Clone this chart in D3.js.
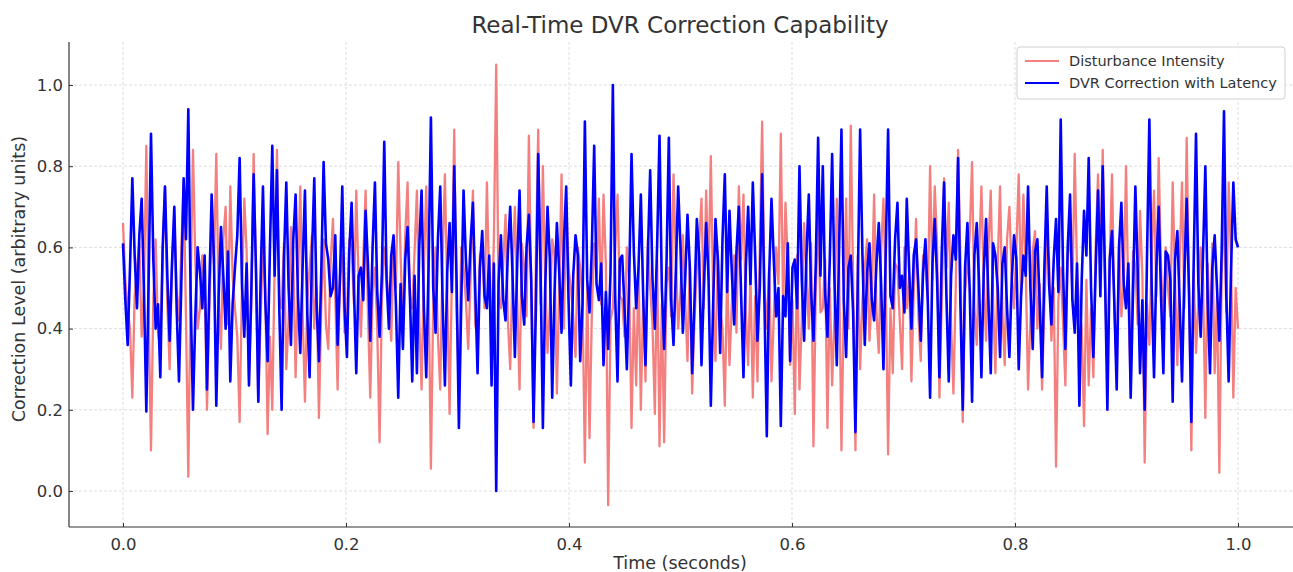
<!DOCTYPE html>
<html>
<head>
<meta charset="utf-8">
<script src="https://cdn.jsdelivr.net/npm/d3@7"></script>
<style>
  body { margin: 0; background: #fff; }
  svg { font-family: "DejaVu Sans", sans-serif; }
</style>
</head>
<body>
<svg id="chart"></svg>
<script>
const width = 1293
const height = 572

// values, evenly spaced in time 0..1
const disturbance = [
  0.66,0.52,0.45,0.40,0.23,0.48,0.55,0.61,0.38,0.50,0.85,0.44,0.10,0.47,0.62,0.39,0.35,0.58,0.75,0.46,
  0.30,0.55,0.68,0.49,0.42,0.60,0.76,0.43,0.035,0.51,0.84,0.57,0.40,0.45,0.58,0.52,0.20,0.44,0.65,0.56,
  0.83,0.47,0.35,0.62,0.70,0.41,0.75,0.53,0.45,0.38,0.17,0.50,0.72,0.59,0.28,0.46,0.83,0.54,0.22,0.43,
  0.60,0.49,0.14,0.38,0.20,0.55,0.84,0.48,0.45,0.61,0.30,0.42,0.65,0.57,0.28,0.51,0.75,0.44,0.22,0.47,
  0.55,0.63,0.40,0.50,0.18,0.45,0.62,0.41,0.35,0.56,0.67,0.48,0.25,0.53,0.58,0.39,0.42,0.62,0.60,0.46,
  0.74,0.52,0.38,0.57,0.74,0.44,0.23,0.49,0.55,0.40,0.12,0.47,0.60,0.54,0.45,0.37,0.62,0.50,0.81,0.58,
  0.40,0.63,0.76,0.48,0.45,0.59,0.74,0.42,0.25,0.55,0.75,0.51,0.055,0.46,0.60,0.38,0.25,0.57,0.78,0.49,
  0.19,0.53,0.89,0.44,0.25,0.60,0.55,0.47,0.35,0.52,0.74,0.41,0.38,0.58,0.60,0.45,0.76,0.50,0.40,0.62,
  1.05,0.48,0.45,0.56,0.68,0.42,0.30,0.54,0.70,0.47,0.25,0.61,0.55,0.43,0.875,0.50,0.155,0.57,0.89,0.46,
  0.80,0.52,0.34,0.45,0.62,0.58,0.24,0.49,0.78,0.40,0.71,0.55,0.50,0.43,0.33,0.60,0.55,0.47,0.07,0.51,
  0.13,0.44,0.61,0.53,0.72,0.46,0.73,0.56,-0.035,0.42,0.45,0.59,0.73,0.48,0.47,0.38,0.60,0.52,0.155,0.45,
  0.26,0.55,0.20,0.48,0.27,0.62,0.50,0.41,0.19,0.57,0.11,0.46,0.12,0.51,0.55,0.43,0.78,0.58,0.40,0.49,
  0.63,0.47,0.32,0.56,0.24,0.42,0.55,0.61,0.72,0.45,0.74,0.52,0.825,0.48,0.32,0.59,0.45,0.40,0.21,0.54,
  0.31,0.46,0.58,0.39,0.75,0.57,0.73,0.44,0.31,0.53,0.23,0.48,0.27,0.60,0.91,0.50,0.40,0.55,0.27,0.43,
  0.60,0.51,0.88,0.45,0.71,0.56,0.31,0.47,0.19,0.58,0.25,0.42,0.66,0.54,0.40,0.61,0.11,0.49,0.69,0.44,
  0.45,0.57,0.155,0.50,0.26,0.43,0.72,0.55,0.10,0.46,0.72,0.40,0.90,0.52,0.10,0.58,0.30,0.47,0.55,0.62,
  0.37,0.48,0.73,0.44,0.34,0.59,0.72,0.51,0.09,0.45,0.29,0.56,0.55,0.42,0.30,0.60,0.45,0.53,0.27,0.49,
  0.67,0.43,0.32,0.58,0.55,0.47,0.80,0.52,0.75,0.61,0.23,0.46,0.77,0.55,0.71,0.41,0.24,0.50,0.84,0.57,
  0.17,0.49,0.55,0.63,0.81,0.45,0.36,0.58,0.75,0.52,0.37,0.60,0.74,0.47,0.29,0.56,0.75,0.44,0.31,0.62,
  0.70,0.53,0.45,0.60,0.78,0.48,0.73,0.55,0.25,0.42,0.59,0.64,0.40,0.51,0.25,0.46,0.62,0.57,0.37,0.50,
  0.06,0.47,0.55,0.41,0.26,0.58,0.63,0.49,0.83,0.54,0.45,0.40,0.16,0.52,0.26,0.45,0.28,0.61,0.78,0.56,
  0.84,0.50,0.29,0.57,0.78,0.44,0.29,0.62,0.43,0.51,0.80,0.47,0.25,0.59,0.55,0.41,0.69,0.53,0.07,0.46,
  0.36,0.58,0.74,0.48,0.82,0.55,0.42,0.60,0.50,0.43,0.76,0.52,0.31,0.57,0.76,0.45,0.87,0.49,0.10,0.54,
  0.34,0.47,0.60,0.52,0.18,0.56,0.38,0.61,0.29,0.48,0.045,0.53,0.71,0.44,0.76,0.58,0.23,0.50,0.40
]

const correction = [
  0.61,0.47,0.36,0.55,0.77,0.58,0.45,0.63,0.72,0.49,0.196,0.52,0.88,0.57,0.40,0.46,0.28,0.60,0.75,0.53,
  0.37,0.56,0.70,0.45,0.27,0.51,0.77,0.62,0.94,0.48,0.20,0.43,0.60,0.54,0.45,0.58,0.25,0.50,0.73,0.57,
  0.21,0.48,0.65,0.53,0.40,0.59,0.27,0.46,0.55,0.63,0.82,0.51,0.38,0.56,0.26,0.49,0.78,0.55,0.22,0.52,
  0.75,0.47,0.32,0.60,0.85,0.53,0.79,0.45,0.20,0.57,0.76,0.50,0.36,0.62,0.73,0.48,0.34,0.55,0.74,0.44,
  0.28,0.58,0.77,0.46,0.32,0.54,0.81,0.61,0.57,0.48,0.50,0.63,0.36,0.52,0.75,0.45,0.33,0.59,0.71,0.50,
  0.29,0.53,0.55,0.47,0.69,0.56,0.37,0.60,0.76,0.49,0.38,0.54,0.86,0.52,0.40,0.58,0.63,0.46,0.23,0.51,
  0.35,0.57,0.65,0.48,0.27,0.53,0.29,0.60,0.74,0.45,0.28,0.55,0.92,0.50,0.39,0.62,0.75,0.47,0.26,0.54,
  0.66,0.49,0.80,0.52,0.155,0.46,0.74,0.57,0.47,0.61,0.71,0.50,0.29,0.55,0.64,0.48,0.45,0.58,0.26,0.56,
  0.0,0.51,0.63,0.47,0.42,0.59,0.70,0.53,0.33,0.56,0.74,0.48,0.41,0.60,0.68,0.52,0.17,0.45,0.83,0.55,
  0.155,0.50,0.70,0.57,0.23,0.49,0.66,0.54,0.39,0.61,0.75,0.47,0.26,0.53,0.63,0.58,0.32,0.46,0.91,0.52,
  0.44,0.60,0.85,0.51,0.47,0.56,0.31,0.49,0.35,0.54,1.0,0.48,0.27,0.57,0.58,0.45,0.30,0.52,0.83,0.59,
  0.45,0.55,0.73,0.48,0.31,0.58,0.79,0.52,0.40,0.61,0.875,0.50,0.35,0.56,0.87,0.47,0.36,0.54,0.75,0.60,
  0.39,0.52,0.68,0.55,0.29,0.47,0.67,0.58,0.31,0.50,0.66,0.53,0.21,0.46,0.67,0.57,0.34,0.62,0.78,0.49,
  0.69,0.54,0.41,0.59,0.70,0.48,0.28,0.55,0.70,0.51,0.76,0.58,0.37,0.50,0.78,0.46,0.135,0.53,0.72,0.57,
  0.43,0.50,0.16,0.48,0.43,0.61,0.32,0.55,0.57,0.45,0.80,0.52,0.37,0.58,0.73,0.49,0.37,0.56,0.87,0.53,
  0.80,0.49,0.38,0.57,0.83,0.52,0.31,0.60,0.89,0.47,0.33,0.55,0.58,0.44,0.145,0.51,0.89,0.58,0.36,0.54,
  0.61,0.47,0.42,0.56,0.66,0.51,0.30,0.59,0.89,0.48,0.45,0.62,0.71,0.50,0.53,0.44,0.72,0.55,0.40,0.58,
  0.62,0.50,0.37,0.54,0.62,0.47,0.23,0.56,0.67,0.52,0.28,0.59,0.76,0.48,0.27,0.53,0.63,0.57,0.82,0.46,
  0.20,0.55,0.66,0.49,0.22,0.58,0.66,0.51,0.28,0.54,0.67,0.47,0.29,0.61,0.58,0.50,0.33,0.56,0.60,0.45,
  0.33,0.52,0.63,0.57,0.30,0.48,0.58,0.53,0.75,0.50,0.35,0.59,0.62,0.46,0.28,0.55,0.75,0.51,0.41,0.57,
  0.67,0.49,0.915,0.54,0.35,0.60,0.73,0.47,0.39,0.56,0.21,0.52,0.69,0.58,0.82,0.50,0.33,0.55,0.74,0.48,
  0.80,0.53,0.20,0.57,0.64,0.46,0.25,0.60,0.71,0.51,0.45,0.56,0.23,0.49,0.75,0.54,0.29,0.47,0.20,0.58,
  0.915,0.50,0.28,0.55,0.70,0.48,0.29,0.59,0.58,0.52,0.22,0.57,0.64,0.46,0.27,0.53,0.72,0.49,0.17,0.56,
  0.88,0.51,0.38,0.58,0.80,0.47,0.29,0.55,0.63,0.50,0.37,0.59,0.935,0.48,0.27,0.54,0.76,0.62,0.60
]

const xTicks = [0, 0.2, 0.4, 0.6, 0.8, 1.0]
const yTicks = [0, 0.2, 0.4, 0.6, 0.8, 1.0]
const seriesNames = ['Disturbance Intensity', 'DVR Correction with Latency']
const seriesColors = ['#f47f7f', '#0000ff']

const time = disturbance.map((d, i) => i / (disturbance.length - 1))

// plot frame (matplotlib style, left + bottom spines only)
const plot = {left: 69, right: 1293, top: 42, bottom: 527}

const x = d3.scaleLinear().domain([0, 1]).range([123, 1238])
const y = d3.scaleLinear().domain([0, 1]).range([491, 85])

const svg = d3.select('#chart').attr('width', width).attr('height', height)

// grid
const grid = svg.append('g')
grid.selectAll('.vg').data(xTicks).enter().append('line')
  .attr('x1', d => x(d)).attr('x2', d => x(d))
  .attr('y1', plot.top).attr('y2', plot.bottom)
  .attr('stroke', '#d4d4d4').attr('stroke-width', 0.8).attr('stroke-dasharray', '3,2')
grid.selectAll('.hg').data(yTicks).enter().append('line')
  .attr('x1', plot.left).attr('x2', plot.right)
  .attr('y1', d => y(d)).attr('y2', d => y(d))
  .attr('stroke', '#d4d4d4').attr('stroke-width', 0.8).attr('stroke-dasharray', '3,2')

// lines
const line = d3.line().x((d, i) => x(time[i])).y(d => y(d))
svg.append('path').datum(disturbance).attr('d', line)
  .attr('fill', 'none').attr('stroke', seriesColors[0]).attr('stroke-width', 2.3)
  .attr('stroke-linejoin', 'round')
svg.append('path').datum(correction).attr('d', line)
  .attr('fill', 'none').attr('stroke', seriesColors[1]).attr('stroke-width', 2.6)
  .attr('stroke-linejoin', 'round')

// axes, ticks point inward
const xAxis = d3.axisBottom(x).tickValues(xTicks).tickFormat(d3.format('.1f')).tickSize(-4).tickPadding(11)
const yAxis = d3.axisLeft(y).tickValues(yTicks).tickFormat(d3.format('.1f')).tickSize(-4).tickPadding(6)

const gx = svg.append('g').attr('transform', `translate(0, ${plot.bottom})`).call(xAxis)
const gy = svg.append('g').attr('transform', `translate(${plot.left}, 0)`).call(yAxis)
gx.select('.domain').remove()
gy.select('.domain').remove()
svg.selectAll('.tick line').attr('stroke', '#333').attr('stroke-width', 1)
svg.selectAll('.tick text').attr('font-size', 16.5).attr('fill', '#333')
  .attr('font-family', '"DejaVu Sans", sans-serif')

svg.append('line').attr('x1', plot.left).attr('x2', plot.left).attr('y1', plot.top).attr('y2', plot.bottom)
  .attr('stroke', '#333').attr('stroke-width', 1.2)
svg.append('line').attr('x1', plot.left).attr('x2', plot.right).attr('y1', plot.bottom).attr('y2', plot.bottom)
  .attr('stroke', '#333').attr('stroke-width', 1.2)

// labels
svg.append('text').attr('x', 680).attr('y', 33).attr('text-anchor', 'middle')
  .attr('font-size', 23).attr('fill', '#333').text('Real-Time DVR Correction Capability')
svg.append('text').attr('x', 680).attr('y', 569).attr('text-anchor', 'middle')
  .attr('font-size', 17.5).attr('fill', '#333').text('Time (seconds)')
svg.append('text').attr('transform', 'translate(25, 279) rotate(-90)').attr('text-anchor', 'middle')
  .attr('font-size', 17.5).attr('fill', '#333').text('Correction Level (arbitrary units)')

// legend
const legend = svg.append('g').attr('transform', 'translate(1017, 47)')
legend.append('rect').attr('width', 268).attr('height', 52).attr('rx', 3)
  .attr('fill', '#fff').attr('fill-opacity', 0.85).attr('stroke', '#d0d0d0')
const items = legend.selectAll('.item').data(seriesNames).enter().append('g')
  .attr('transform', (d, i) => `translate(0, ${14 + i * 22})`)
items.append('line').attr('x1', 8).attr('x2', 42).attr('y1', 0).attr('y2', 0)
  .attr('stroke', (d, i) => seriesColors[i]).attr('stroke-width', 2)
items.append('text').attr('x', 52).attr('y', 5).attr('font-size', 14.5).attr('fill', '#333').text(d => d)
</script>
</body>
</html>
